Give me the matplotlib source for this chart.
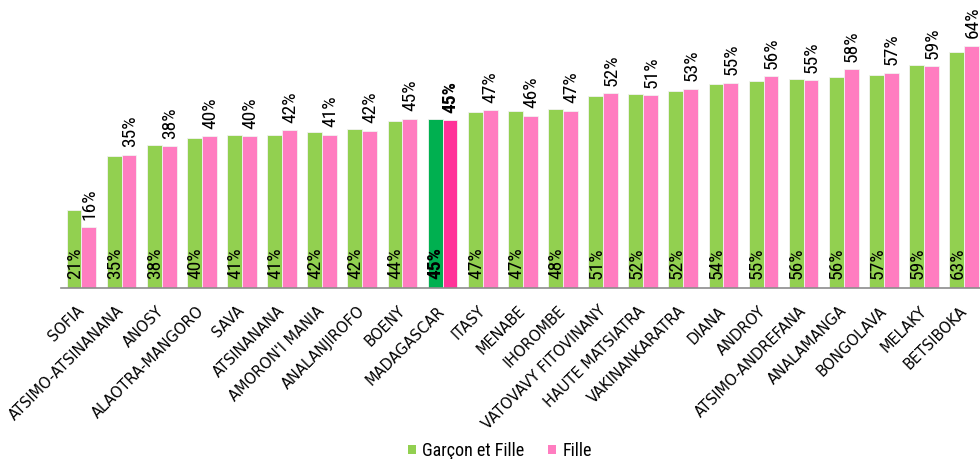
import matplotlib
matplotlib.use("Agg")
import matplotlib.pyplot as plt
from matplotlib.patches import Patch
from matplotlib.font_manager import FontProperties
import numpy as np

categories = ["SOFIA", "ATSIMO-ATSINANANA", "ANOSY", "ALAOTRA-MANGORO", "SAVA",
              "ATSINANANA", "AMORON'I MANIA", "ANALANJIROFO", "BOENY", "MADAGASCAR",
              "ITASY", "MENABE", "IHOROMBE", "VATOVAVY FITOVINANY", "HAUTE MATSIATRA",
              "VAKINANKARATRA", "DIANA", "ANDROY", "ATSIMO-ANDREFANA", "ANALAMANGA",
              "BONGOLAVA", "MELAKY", "BETSIBOKA"]
garcon_fille = [20.6, 35.2, 38.0, 40.0, 40.6, 40.6, 41.5, 42.4, 44.4, 45.1,
                46.9, 47.0, 47.7, 51.1, 51.6, 52.4, 54.4, 55.1, 55.7, 56.3,
                56.8, 59.4, 62.8]
fille = [16.1, 35.4, 37.7, 40.4, 40.4, 42.0, 40.7, 41.8, 45.0, 44.6,
         47.3, 45.9, 47.2, 51.8, 51.3, 53.0, 54.6, 56.4, 55.3, 58.2,
         57.3, 59.0, 64.4]
series_names = ["Garçon et Fille", "Fille"]
highlight = "MADAGASCAR"

GREEN = "#92D050"
PINK = "#FF7DC0"
GREEN_H = "#00B050"
PINK_H = "#FF3399"
NARROW_FAMILY = ["Roboto Condensed", "PT Sans Narrow", "DejaVu Sans"]


def narrow(size, weight="normal"):
    return FontProperties(family=NARROW_FAMILY, size=size, weight=weight)


fig = plt.figure(figsize=(9.8, 4.59), dpi=100)
ax = fig.add_axes([61.4 / 980, 171.3 / 459, 922.8 / 980, 287.7 / 459])

x = np.arange(len(categories))
w = 0.37
gcols = [GREEN_H if c == highlight else GREEN for c in categories]
pcols = [PINK_H if c == highlight else PINK for c in categories]
ax.bar(x - w / 2, garcon_fille, w, color=gcols, edgecolor="#f2f2f2", linewidth=0.6, zorder=2)
ax.bar(x + w / 2, fille, w, color=pcols, edgecolor="#f2f2f2", linewidth=0.6, zorder=2)

ax.set_xlim(-0.5, len(categories) - 0.5)
ax.set_ylim(0, 76.7)

for i, c in enumerate(categories):
    bold = "bold" if c == highlight else "normal"
    ax.annotate(f"{round(garcon_fille[i])}%", (x[i] - w / 2, 0), xytext=(0.5, 6.5),
                textcoords="offset points", rotation=90, ha="center", va="bottom",
                fontproperties=narrow(14, bold), color="black", zorder=3)
    ax.annotate(f"{round(fille[i])}%", (x[i] + w / 2, fille[i]), xytext=(0.5, 5.5),
                textcoords="offset points", rotation=90, ha="center", va="bottom",
                fontproperties=narrow(14, bold), color="black", zorder=3,
                annotation_clip=False)

for s in ["top", "right", "left"]:
    ax.spines[s].set_visible(False)
ax.spines["bottom"].set_color("#8c8c8c")
ax.spines["bottom"].set_linewidth(1.2)
ax.set_yticks([])
ax.set_xticks(x)
ax.set_xticklabels(categories, rotation=45, ha="right", va="center",
                   rotation_mode="anchor", fontsize=10.5, family="DejaVu Sans")
ax.tick_params(axis="x", length=0, pad=15)

handles = [Patch(facecolor=GREEN, edgecolor="none"), Patch(facecolor=PINK, edgecolor="none")]
fig.legend(handles, series_names, loc="center", bbox_to_anchor=(0.510, 0.0175),
           ncol=2, frameon=False, prop=narrow(13),
           handlelength=0.45, handleheight=0.45, handletextpad=0.35, columnspacing=1.3,
           borderaxespad=0)

fig.savefig("out.png", dpi=100, facecolor="white")
